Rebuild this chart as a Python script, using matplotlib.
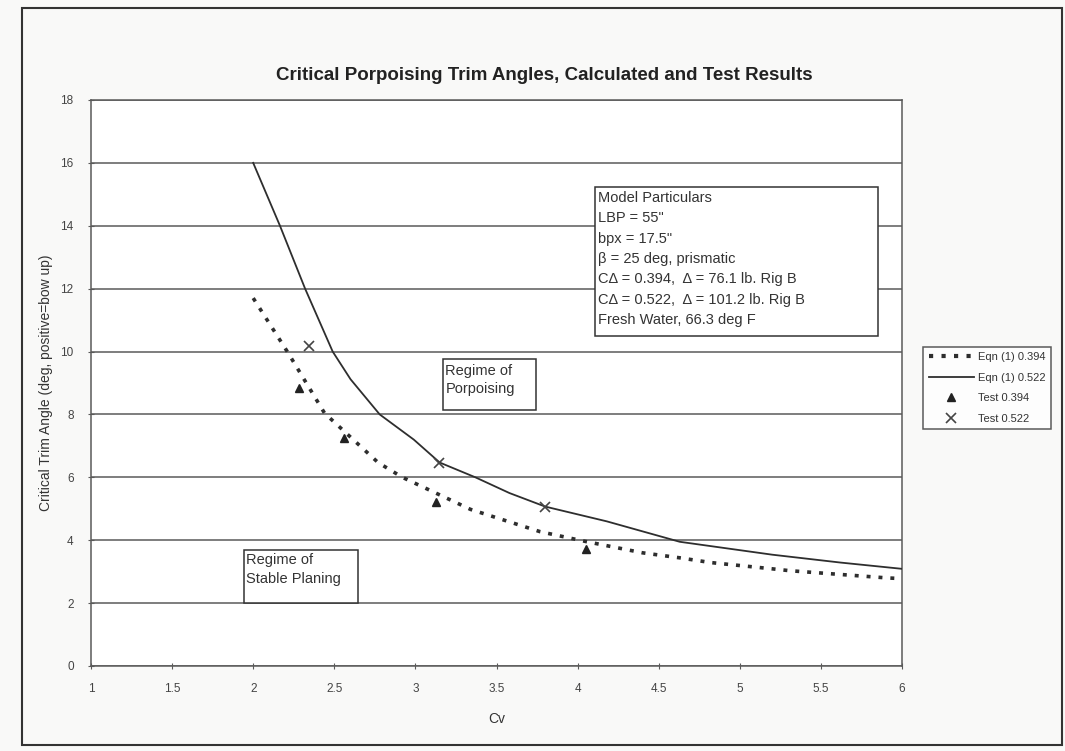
import matplotlib
matplotlib.use("Agg")
import matplotlib.pyplot as plt
from matplotlib.patches import Rectangle
from matplotlib.lines import Line2D

plt.rcParams['font.family'] = ['Liberation Sans', 'DejaVu Sans']

# Data
cv_eqn_0394 = [2.00, 2.21, 2.44, 2.77, 2.92, 3.34, 3.77, 4.05, 4.40, 4.63, 4.82, 5.20, 5.31, 5.91, 6.00]
tau_eqn_0394 = [11.7, 10.0, 8.04, 6.47, 6.00, 4.98, 4.27, 3.96, 3.60, 3.44, 3.29, 3.09, 3.03, 2.80, 2.78]

cv_eqn_0522 = [2.00, 2.165, 2.32, 2.49, 2.60, 2.78, 2.99, 3.15, 3.37, 3.58, 3.80, 4.18, 4.63, 5.20, 5.62, 6.00]
tau_eqn_0522 = [16.0, 14.0, 12.0, 10.0, 9.12, 8.0, 7.2, 6.47, 6.0, 5.5, 5.07, 4.6, 3.95, 3.54, 3.29, 3.09]

cv_test_0394 = [2.28, 2.56, 3.13, 4.05]
tau_test_0394 = [8.84, 7.24, 5.20, 3.73]

cv_test_0522 = [2.345, 3.145, 3.80]
tau_test_0522 = [10.17, 6.45, 5.07]

series_labels = ['Eqn (1) 0.394', 'Eqn (1) 0.522', 'Test 0.394', 'Test 0.522']

x_ticks = [1, 1.5, 2, 2.5, 3, 3.5, 4, 4.5, 5, 5.5, 6]
x_tick_labels = ['1', '1.5', '2', '2.5', '3', '3.5', '4', '4.5', '5', '5.5', '6']
y_ticks = [0, 2, 4, 6, 8, 10, 12, 14, 16, 18]

title = "Critical Porpoising Trim Angles, Calculated and Test Results"
particulars = ("Model Particulars\nLBP = 55\"\nbpx = 17.5\"\n\u03b2 = 25 deg, prismatic\n"
               "C\u0394 = 0.394,  \u0394 = 76.1 lb. Rig B\nC\u0394 = 0.522,  \u0394 = 101.2 lb. Rig B\n"
               "Fresh Water, 66.3 deg F")

W, H = 1065, 751
fig = plt.figure(figsize=(W / 100, H / 100), dpi=100)
fig.patch.set_facecolor('#f9f9f8')

ax = fig.add_axes([91 / W, 1 - 666 / H, (902 - 91) / W, (666 - 100) / H])
ax.set_facecolor('white')

line_col = '#2e2e2e'
grid_col = '#5a5a5a'
text_col = '#333333'

ax.plot(cv_eqn_0394, tau_eqn_0394, color=line_col, lw=2.6, linestyle=(0, (1.1, 2.2)), zorder=3)
ax.plot(cv_eqn_0522, tau_eqn_0522, color=line_col, lw=1.3, zorder=3)
ax.plot(cv_test_0394, tau_test_0394, linestyle='none', marker='^', markersize=6,
        color='#222222', zorder=4)
ax.plot(cv_test_0522, tau_test_0522, linestyle='none', marker='x', markersize=7,
        mew=1.2, color='#444444', zorder=4)

ax.set_xlim(1, 6)
ax.set_ylim(0, 18)
ax.set_xticks(x_ticks)
ax.set_xticklabels(x_tick_labels)
ax.set_yticks(y_ticks)
ax.yaxis.grid(True, color=grid_col, lw=1.1)
ax.set_axisbelow(True)
for s in ax.spines.values():
    s.set_color(grid_col)
    s.set_linewidth(1.1)
ax.tick_params(axis='both', direction='inout', length=5, color=grid_col,
               labelsize=8.5, labelcolor='#444444', pad=10)

ax.set_xlabel('Cv', fontsize=10, color=text_col)
ax.set_ylabel('Critical Trim Angle (deg, positive=bow up)', fontsize=10, color=text_col)
ax.xaxis.set_label_coords(0.5, -0.082)
ax.yaxis.set_label_coords(-0.047, 0.5)

fig.text(544 / W, 1 - 75 / H, title, ha='center', va='center', fontsize=13.5,
         color='#222222', fontweight='bold')

# Annotation boxes (drawn in data coordinates)
def note_box(x0, x1, y0, y1, tx, ty, txt, spacing):
    ax.add_patch(Rectangle((x0, y0), x1 - x0, y1 - y0, facecolor='white',
                           edgecolor='#333333', lw=1.1, zorder=5))
    ax.text(tx, ty, txt, fontsize=10.5, color=text_col, va='top', ha='left',
            linespacing=spacing, zorder=6)

note_box(4.11, 5.852, 10.49, 15.22, 4.125, 15.1, particulars, 1.57)
note_box(3.17, 3.744, 8.13, 9.76, 3.185, 9.62, 'Regime of\nPorpoising', 1.45)
note_box(1.943, 2.646, 2.01, 3.70, 1.958, 3.6, 'Regime of\nStable Planing', 1.45)

# Legend (proxy handles with the reference's legend styling)
handles = [
    Line2D([], [], color=line_col, lw=3.0, linestyle=(0, (1.0, 2.0))),
    Line2D([], [], color=line_col, lw=1.3),
    Line2D([], [], color='#222222', linestyle='none', marker='^', markersize=6),
    Line2D([], [], color='#444444', linestyle='none', marker='x', markersize=7, mew=1.2),
]
leg = ax.legend(handles, series_labels, loc='center left', bbox_to_anchor=(1.026, 0.491),
                fontsize=8, frameon=True, fancybox=False, edgecolor='#333333',
                handlelength=4.1, borderpad=0.5, labelspacing=0.95, handletextpad=0.3,
                borderaxespad=0)
leg.get_frame().set_linewidth(1.1)
for t in leg.get_texts():
    t.set_color(text_col)

# Outer frame
fig.patches.append(Rectangle((22 / W, 1 - 745 / H), (1062 - 22) / W, (745 - 8) / H,
                             transform=fig.transFigure, fill=False, edgecolor='#333333',
                             lw=1.5))

fig.savefig('out.png', dpi=100, facecolor=fig.get_facecolor())
